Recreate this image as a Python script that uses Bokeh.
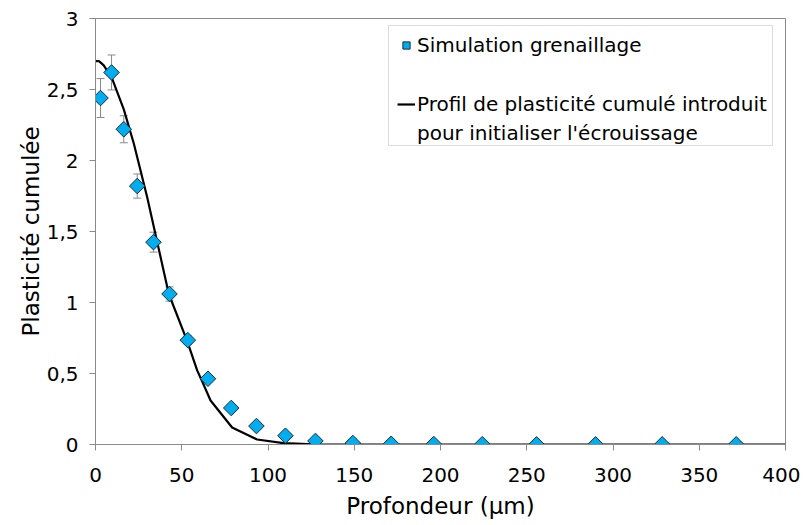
import numpy as np
from bokeh.plotting import figure
from bokeh.models import (ColumnDataSource, Whisker, TeeHead, FixedTicker, Legend,
                          LegendItem, BoxAnnotation, CDSView, IndexFilter)
from bokeh.embed import file_html
from bokeh.resources import INLINE

# Simulation (grenaillage) points
sim_depth = [2.9, 9.3, 16.4, 24.2, 33.6, 42.9, 53.5, 65.2, 78.7, 93.3, 110.1, 127.5,
             149.2, 171.4, 196.1, 224.2, 255.7, 289.9, 328.5, 371.4]
sim_plast = [2.44, 2.62, 2.22, 1.82, 1.425, 1.06, 0.735, 0.463, 0.257, 0.13, 0.062, 0.025,
             0.01, 0.005, 0.003, 0.002, 0.001, 0.001, 0.001, 0.001]
sim_err = [0.137, 0.123, 0.095, 0.085, 0.07, 0.05, 0.03, 0.02, 0.0, 0.0, 0.0, 0.0,
           0.0, 0.0, 0.0, 0.0, 0.0, 0.0, 0.0, 0.0]

# Introduced cumulated plasticity profile
prof_depth = [0, 2, 4.8, 9.7, 16.4, 22.2, 30, 42.5, 53.1, 59, 62, 66.7, 79.2, 93.7, 109, 130, 400]
prof_plast = [2.70, 2.70, 2.67, 2.575, 2.36, 2.12, 1.74, 1.06, 0.73, 0.52, 0.44, 0.31, 0.12,
              0.035, 0.01, 0.0, 0.0]

x_ticks = [0, 50, 100, 150, 200, 250, 300, 350, 400]
y_ticks = [0, 0.5, 1, 1.5, 2, 2.5, 3]
y_tick_labels = ["0", "0,5", "1", "1,5", "2", "2,5", "3"]

legend_sim = "Simulation grenaillage"
legend_prof_1 = "Profil de plasticité cumulé introduit"
legend_prof_2 = "pour initialiser l'écrouissage"

FONT = "DejaVu Sans"
GRAY = "#8a8a8a"
BLUE = "#00AEEF"

p = figure(width=800, height=525, x_range=(0, 400), y_range=(0, 3),
           output_backend="svg", toolbar_location=None,
           min_border_left=95, min_border_right=15, min_border_top=18, min_border_bottom=81)
p.xgrid.visible = False
p.ygrid.visible = False
p.outline_line_color = GRAY
p.outline_line_width = 1
p.background_fill_color = "white"

src = ColumnDataSource(dict(x=sim_depth, y=sim_plast,
                            upper=[v + e for v, e in zip(sim_plast, sim_err)],
                            lower=[v - e for v, e in zip(sim_plast, sim_err)]))

w = Whisker(source=src, base="x", upper="upper", lower="lower", level="underlay",
            line_color=GRAY, line_width=1,
            upper_head=TeeHead(size=8, line_color=GRAY, line_width=1),
            lower_head=TeeHead(size=8, line_color=GRAY, line_width=1))
p.add_layout(w)

ln = p.line(prof_depth, prof_plast, line_color="black", line_width=2.2)
sc = p.scatter("x", "y", source=src, marker="square", angle=np.pi / 4, size=11,
               fill_color=BLUE, line_color="#1b2b36", line_width=1)

# legend-only stand-in for the second text line (nothing drawn in the plot)
leg_blank = p.line("x", "y", source=src, view=CDSView(filter=IndexFilter([])), line_alpha=0)

for ax in (p.xaxis[0], p.yaxis[0]):
    ax.axis_line_color = GRAY
    ax.major_tick_line_color = GRAY
    ax.minor_tick_line_color = None
    ax.major_tick_in = 0
    ax.major_tick_out = 6
    ax.major_label_text_font = FONT
    ax.major_label_text_font_size = "20px"
    ax.major_label_text_color = "black"
    ax.axis_label_text_font = FONT
    ax.axis_label_text_font_size = "23px"
    ax.axis_label_text_font_style = "normal"
    ax.axis_label_text_color = "black"

p.xaxis.ticker = FixedTicker(ticks=x_ticks)
p.yaxis.ticker = FixedTicker(ticks=y_ticks)
p.yaxis.major_label_overrides = {t: l for t, l in zip(y_ticks, y_tick_labels)}
p.xaxis.axis_label = "Profondeur (µm)"
p.yaxis.axis_label = "Plasticité cumulée"
p.xaxis.major_label_standoff = 17
p.yaxis.major_label_standoff = 11
p.xaxis.axis_label_standoff = 8
p.yaxis.axis_label_standoff = 0

# legend frame
box = BoxAnnotation(left=293, right=677, bottom=299, top=419,
                    left_units="screen", right_units="screen",
                    bottom_units="screen", top_units="screen",
                    fill_color="white", fill_alpha=1, line_color=GRAY, line_width=1,
                    level="annotation")
p.add_layout(box)


def style(leg):
    leg.margin = 0
    leg.padding = 0
    leg.glyph_width = 18
    leg.glyph_height = 22
    leg.label_standoff = 2
    leg.label_text_font = FONT
    leg.label_text_font_size = "20px"
    leg.label_text_color = "black"
    leg.border_line_color = None
    leg.background_fill_alpha = 0


leg_a = Legend(items=[LegendItem(label=legend_sim, renderers=[sc])],
               location=(302, 387))
style(leg_a)
leg_b = Legend(items=[LegendItem(label=legend_prof_1, renderers=[ln]),
                      LegendItem(label=legend_prof_2, renderers=[leg_blank])],
               location=(302, 299))
style(leg_b)
leg_b.spacing = 5
p.add_layout(leg_a)
p.add_layout(leg_b)

open("out.html", "w").write(file_html(p, INLINE))
